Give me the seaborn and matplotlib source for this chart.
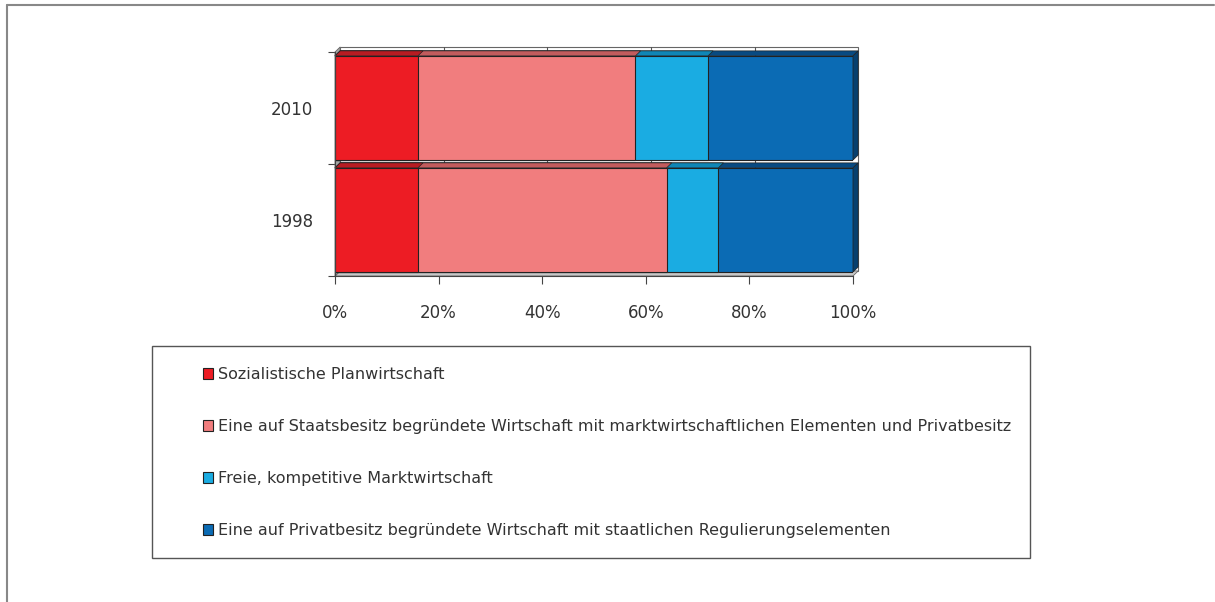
import numpy as np
import pandas as pd
import seaborn as sns
import matplotlib.pyplot as plt
from matplotlib.patches import Polygon, Rectangle, Patch
from matplotlib.lines import Line2D

# Daten (Anteile in %)
jahre = ['2010', '1998']
kategorien = [
    'Sozialistische Planwirtschaft',
    'Eine auf Staatsbesitz begründete Wirtschaft mit marktwirtschaftlichen Elementen und Privatbesitz',
    'Freie, kompetitive Marktwirtschaft',
    'Eine auf Privatbesitz begründete Wirtschaft mit staatlichen Regulierungselementen',
]
planwirtschaft = [16, 16]
staatsbesitz = [42, 48]
marktwirtschaft = [14, 10]
privatbesitz = [28, 26]

farben = ['#ED1C24', '#F17D7E', '#1AACE2', '#0B6BB4']
farben_oben = ['#B81C22', '#C25C5D', '#0F86B6', '#084A82']
farbe_seite = '#07406F'
textfarbe = '#333333'

df = pd.DataFrame({
    'Jahr': jahre,
    'Planwirtschaft': planwirtschaft,
    'Staatsbesitz': staatsbesitz,
    'Marktwirtschaft': marktwirtschaft,
    'Privatbesitz': privatbesitz,
})
serien = ['Planwirtschaft', 'Staatsbesitz', 'Marktwirtschaft', 'Privatbesitz']
kumuliert = df[serien].cumsum(axis=1)
kumuliert['Jahr'] = df['Jahr']

sns.set_theme(style='white')
plt.rcParams['font.family'] = ['DejaVu Sans']
plt.rcParams['text.color'] = textfarbe

fig = plt.figure(figsize=(12.15, 6.02), dpi=100)
ax = fig.add_axes([335 / 1215, 1 - 276 / 602, 518 / 1215, 224 / 602])

# --- gestapelte Balken: kumulierte Summen von hinten nach vorne ---
for i in reversed(range(len(serien))):
    sns.barplot(data=kumuliert, x=serien[i], y='Jahr', order=jahre, orient='h',
                color=farben[i], saturation=1, width=0.93,
                edgecolor='#222222', linewidth=0.8, ax=ax)

ax.set_xlim(0, 100)
ax.set_ylim(1.5, -0.5)

# 3D-Andeutung
dx, dy = 1.0, 0.045
z = 3
reihen = list(reversed(range(len(serien))))
for k, p in enumerate(ax.patches):
    i = reihen[k // len(jahre)]
    x0, y0 = p.get_x(), p.get_y()
    w, h = p.get_width(), p.get_height()
    p.set_zorder(z + k * 0.01)
    oben = Polygon([(x0, y0), (x0 + w, y0), (x0 + w + dx, y0 - dy), (x0 + dx, y0 - dy)],
                   closed=True, facecolor=farben_oben[i], edgecolor='#222222',
                   linewidth=0.5, zorder=z + k * 0.01 + 0.005, clip_on=False)
    ax.add_patch(oben)
    if i == len(serien) - 1:
        seite = Polygon([(x0 + w, y0), (x0 + w + dx, y0 - dy), (x0 + w + dx, y0 + h - dy),
                         (x0 + w, y0 + h)], closed=True, facecolor=farbe_seite,
                        edgecolor='#222222', linewidth=0.5, zorder=z + k * 0.01 + 0.005,
                        clip_on=False)
        ax.add_patch(seite)

# Rückwand, Boden, Seitenwand
ax.add_patch(Rectangle((dx, -0.5 - dy), 100, 2, facecolor='white', edgecolor='#666666',
                       linewidth=0.8, zorder=0.5, clip_on=False))
for g in [20, 40, 60, 80]:
    ax.plot([g + dx, g + dx], [-0.5 - dy, 1.5 - dy], color='#555555', lw=0.8,
            zorder=0.6, clip_on=False)
ax.add_patch(Polygon([(0, 1.5), (100, 1.5), (100 + dx, 1.5 - dy), (dx, 1.5 - dy)],
                     closed=True, facecolor='#C8C8C8', edgecolor='#666666', linewidth=0.6,
                     zorder=0.7, clip_on=False))
ax.add_patch(Polygon([(0, -0.5), (dx, -0.5 - dy), (dx, 1.5 - dy), (0, 1.5)],
                     closed=True, facecolor='#A6A6A6', edgecolor='#666666', linewidth=0.6,
                     zorder=0.7, clip_on=False))

# Achsen
for s in ['top', 'right']:
    ax.spines[s].set_visible(False)
for s in ['left', 'bottom']:
    ax.spines[s].set_color('#444444')
    ax.spines[s].set_linewidth(0.8)
    ax.spines[s].set_zorder(10)
ax.set_facecolor('none')

ax.set_xticks([0, 20, 40, 60, 80, 100])
ax.set_xticklabels(['0%', '20%', '40%', '60%', '80%', '100%'])
ax.tick_params(axis='x', length=6, width=0.8, color='#444444', pad=14,
               labelsize=12, labelcolor=textfarbe, bottom=True)
ax.set_yticks([0, 1])
ax.set_yticklabels(jahre)
ax.set_yticks([-0.5, 0.5, 1.5], minor=True)
ax.tick_params(axis='y', which='major', length=0, pad=16, labelsize=12, labelcolor=textfarbe)
ax.tick_params(axis='y', which='minor', length=5, width=0.8, color='#444444', left=True)
ax.set_xlabel('')
ax.set_ylabel('')

# Legende in eigenem Rahmen
fig.patches.append(Rectangle((152 / 1215, 1 - 558 / 602), 878 / 1215, 212 / 602,
                             transform=fig.transFigure, facecolor='none',
                             edgecolor='#555555', linewidth=1.0))
handles = [Patch(facecolor=f, edgecolor='#222222', linewidth=0.8) for f in farben]
fig.legend(handles, kategorien, loc='upper left', bbox_to_anchor=(203 / 1215, 1 - 367 / 602),
           frameon=False, fontsize=11.5, labelspacing=2.32, handlelength=0.65,
           handleheight=0.65, handletextpad=0.3, borderaxespad=0, borderpad=0,
           labelcolor=textfarbe)

# äußerer Rahmen (oben und links)
fig.add_artist(Line2D([7 / 1215, 1214 / 1215], [1 - 5 / 602, 1 - 5 / 602],
                      transform=fig.transFigure, color='#888888', lw=1.5))
fig.add_artist(Line2D([7 / 1215, 7 / 1215], [1 - 5 / 602, 0], transform=fig.transFigure,
                      color='#888888', lw=1.5))

fig.savefig('out.png', dpi=100, facecolor='white')
